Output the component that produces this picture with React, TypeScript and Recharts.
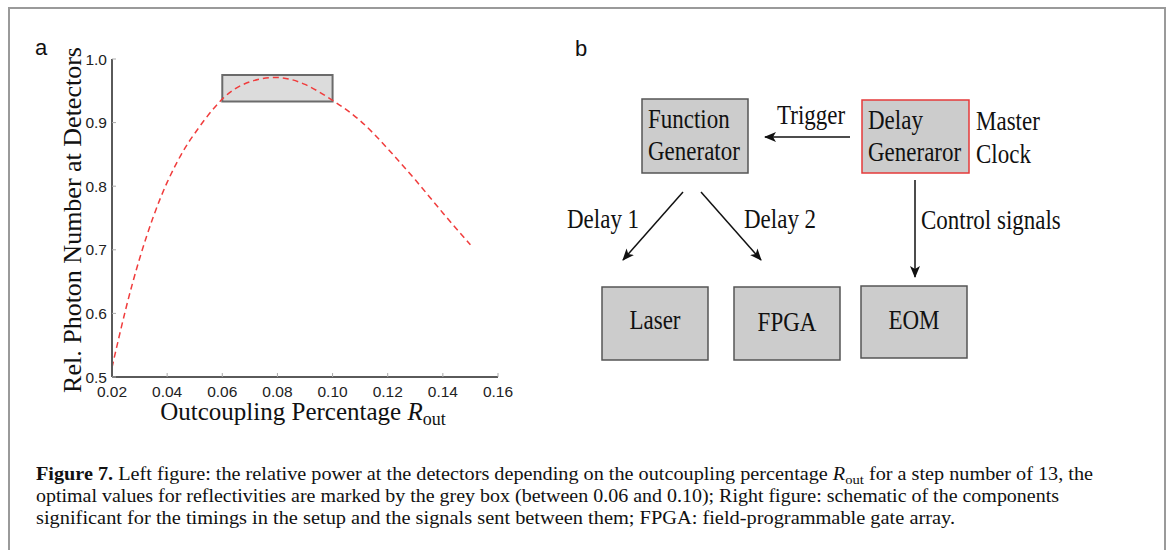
import React from 'react';
import { LineChart, Line, XAxis, YAxis, ReferenceArea } from 'recharts';

// values
const rOut = [0.02, 0.025, 0.03, 0.035, 0.04, 0.045, 0.05, 0.06, 0.07, 0.08, 0.09, 0.1, 0.11, 0.12, 0.13, 0.14, 0.15];
const relPhoton = [0.515, 0.607, 0.686, 0.752, 0.806, 0.849, 0.883, 0.937, 0.964, 0.971, 0.96, 0.935, 0.903, 0.859, 0.81, 0.758, 0.708];
const xTicks = [0.02, 0.04, 0.06, 0.08, 0.1, 0.12, 0.14, 0.16];
const yTicks = [0.5, 0.6, 0.7, 0.8, 0.9, 1.0];
const optimalX = [0.06, 0.1];
const optimalY = [0.933, 0.975];

const data = rOut.map((r, i) => ({ r, p: relPhoton[i] }));

const SANS = '"Liberation Sans", Arial, sans-serif';
const SERIF = '"Liberation Serif", "Times New Roman", serif';

const XTick = ({ x, y, payload }: any) => (
  <text x={x} y={y} dy={14} textAnchor="middle" fontFamily={SANS} fontSize={15.5} fill="#222">
    {payload.value.toFixed(2)}
  </text>
);

const YTick = ({ x, y, payload }: any) => (
  <text x={x} y={y} dy={5.5} textAnchor="end" fontFamily={SANS} fontSize={15.5} fill="#222">
    {payload.value.toFixed(1)}
  </text>
);

const YLabel = ({ viewBox }: any) => {
  const cx = viewBox.x + 81;
  const cy = viewBox.y + viewBox.height / 2 + 2;
  return (
    <text x={cx} y={cy} transform={`rotate(-90, ${cx}, ${cy})`} textAnchor="middle" fontFamily={SERIF} fontSize={26} fill="#111">
      Rel. Photon Number at Detectors
    </text>
  );
};

const XLabel = ({ viewBox }: any) => (
  <text x={viewBox.x + viewBox.width / 2 - 2} y={viewBox.y + 43} textAnchor="middle" fontFamily={SERIF} fontSize={25} fill="#111">
    Outcoupling Percentage <tspan fontStyle="italic">R</tspan>
    <tspan dy={5} fontSize={18}>out</tspan>
  </text>
);

const axisLine = { stroke: '#5a5a5a', strokeWidth: 2 };
const tickLine = { stroke: '#aaa' };

// diagram text, slightly taller than wide like the source figure
const Txt = ({ x, y, anchor, children }: any) => (
  <text transform={`translate(${x},${y}) scale(1,1.15)`} textAnchor={anchor || 'start'}>
    {children}
  </text>
);

const Box = ({ x, y, w, h, red, children }: any) => (
  <g>
    <rect x={x} y={y} width={w} height={h} fill="#cccccc" stroke={red ? '#e53a3a' : '#555'} strokeWidth={1.5} />
    {children}
  </g>
);

const Diagram = () => (
  <svg width={1171} height={550} style={{ position: 'absolute', left: 0, top: 0, pointerEvents: 'none' }}>
    <defs>
      <marker id="head" viewBox="0 0 12 10" refX="11" refY="5" markerWidth="12" markerHeight="10" markerUnits="userSpaceOnUse" orient="auto">
        <path d="M0,0 L12,5 L0,10 L3,5 Z" fill="#111" />
      </marker>
    </defs>
    <text x={35} y={55} fontFamily={SANS} fontSize={22} fill="#111">a</text>
    <text x={575} y={56} fontFamily={SANS} fontSize={22} fill="#111">b</text>

    <g fontFamily={SERIF} fontSize={23} fill="#111">
      <Box x={642} y={99} w={106} h={74}>
        <Txt x={648} y={128}>Function</Txt>
        <Txt x={648} y={160}>Generator</Txt>
      </Box>
      <Box x={862} y={100} w={107} h={73} red>
        <Txt x={868} y={129}>Delay</Txt>
        <Txt x={868} y={161}>Generaror</Txt>
      </Box>
      <Txt x={976} y={130}>Master</Txt>
      <Txt x={976} y={163}>Clock</Txt>
      <Txt x={777} y={124}>Trigger</Txt>

      <Box x={602} y={287} w={106} h={73}>
        <Txt x={655} y={329} anchor="middle">Laser</Txt>
      </Box>
      <Box x={734} y={287} w={106} h={73}>
        <Txt x={787} y={331} anchor="middle">FPGA</Txt>
      </Box>
      <Box x={861} y={286} w={106} h={72}>
        <Txt x={914} y={329} anchor="middle">EOM</Txt>
      </Box>

      <Txt x={567} y={228}>Delay 1</Txt>
      <Txt x={744} y={228}>Delay 2</Txt>
      <Txt x={921} y={229}>Control signals</Txt>
    </g>

    <g stroke="#111" strokeWidth={1.5} fill="none">
      <line x1={850} y1={137} x2={765} y2={137} markerEnd="url(#head)" />
      <line x1={683} y1={192} x2={623} y2={260} markerEnd="url(#head)" />
      <line x1={701} y1={192} x2={761} y2={260} markerEnd="url(#head)" />
      <line x1={915} y1={180} x2={915} y2={277} markerEnd="url(#head)" />
    </g>

    <g fontFamily={SERIF} fontSize={18} fill="#111">
      <text x={36} y={480} textLength={1057} lengthAdjust="spacingAndGlyphs">
        <tspan fontWeight="bold">Figure 7.</tspan> Left figure: the relative power at the detectors depending on the outcoupling percentage{' '}
        <tspan fontStyle="italic">R</tspan>
        <tspan dy={4} fontSize={13}>out</tspan>
        <tspan dy={-4}> for a step number of 13, the</tspan>
      </text>
      <text x={36} y={502} textLength={1023} lengthAdjust="spacingAndGlyphs">
        optimal values for reflectivities are marked by the grey box (between 0.06 and 0.10); Right figure: schematic of the components
      </text>
      <text x={36} y={524} textLength={919} lengthAdjust="spacingAndGlyphs">
        significant for the timings in the setup and the signals sent between them; FPGA: field-programmable gate array.
      </text>
    </g>
  </svg>
);

export default function App() {
  return (
    <div style={{ position: 'absolute', left: 0, top: 0, width: 1171, height: 550, overflow: 'hidden', background: '#fff' }}>
      <div style={{ position: 'absolute', left: 8, top: 7, width: 1154, height: 600, border: '2px solid #9a9a9a', borderBottom: 'none' }} />
      <div style={{ position: 'absolute', left: 0, top: 0 }}>
        <LineChart width={560} height={440} data={data} margin={{ top: 59, right: 62, bottom: 33, left: 0 }}>
          <XAxis
            dataKey="r"
            type="number"
            domain={[0.02, 0.16]}
            ticks={xTicks}
            height={30}
            axisLine={axisLine}
            tickLine={tickLine}
            tickSize={-4}
            tickMargin={10}
            tick={<XTick />}
            label={{ content: <XLabel /> }}
          />
          <XAxis xAxisId="top" orientation="top" type="number" domain={[0.02, 0.16]} ticks={xTicks} height={0} axisLine={axisLine} tickLine={tickLine} tickSize={-4} tick={false} />
          <YAxis
            type="number"
            domain={[0.5, 1.0]}
            ticks={yTicks}
            width={112}
            axisLine={axisLine}
            tickLine={tickLine}
            tickSize={-4}
            tickMargin={9}
            tick={<YTick />}
            label={{ content: <YLabel /> }}
          />
          <YAxis yAxisId="right" orientation="right" type="number" domain={[0.5, 1.0]} ticks={yTicks} width={0} axisLine={axisLine} tickLine={tickLine} tickSize={-4} tick={false} />
          <Line dataKey="p" type="natural" stroke="#f03c3c" strokeWidth={1.5} strokeDasharray="6 4" dot={false} isAnimationActive={false} />
          <ReferenceArea
            x1={optimalX[0]}
            x2={optimalX[1]}
            y1={optimalY[0]}
            y2={optimalY[1]}
            fill="#d0d0d0"
            fillOpacity={0.75}
            stroke="#6b6b6b"
            strokeWidth={2}
          />
        </LineChart>
      </div>
      <Diagram />
    </div>
  );
}
